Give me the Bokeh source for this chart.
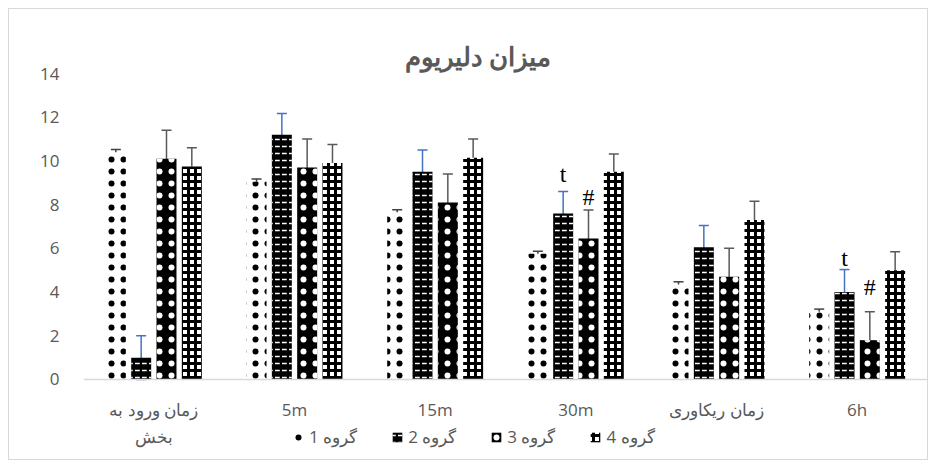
from bokeh.plotting import figure
from bokeh.models import Range1d, FixedTicker, Whisker, TeeHead, ColumnDataSource, Legend, LegendItem, Span
from bokeh.embed import file_html
from bokeh.resources import INLINE
from bokeh.core.properties import value

# ---- data ----
categories = ["زمان ورود به\nبخش", "5m", "15m", "30m", "زمان ریکاوری", "6h"]
series_names = ["گروه 1", "گروه 2", "گروه 3", "گروه 4"]
g1 = [10.4, 9.05, 7.65, 5.75, 4.35, 3.1]
g1_err = [0.12, 0.12, 0.12, 0.12, 0.12, 0.12]
g2 = [1.0, 11.2, 9.5, 7.6, 6.05, 4.0]
g2_err = [1.0, 0.97, 1.0, 1.0, 1.0, 1.03]
g3 = [10.1, 9.7, 8.1, 6.45, 4.7, 1.8]
g3_err = [1.3, 1.3, 1.3, 1.3, 1.3, 1.3]
g4 = [9.75, 9.9, 10.15, 9.5, 7.3, 5.0]
g4_err = [0.85, 0.85, 0.85, 0.82, 0.85, 0.85]
y_ticks = [0, 2, 4, 6, 8, 10, 12, 14]
title_text = "میزان دلیریوم"
ann_text = ["t", "#", "t", "#"]
ann_cat = [3, 3, 5, 5]
ann_series = [1, 2, 1, 2]
ann_y = [9.4, 8.35, 5.55, 4.25]

values = [g1, g2, g3, g4]
errors = [g1_err, g2_err, g3_err, g4_err]

# ---- styling ----
offsets = [-0.27, -0.09, 0.09, 0.27]
bar_w = 0.142
styles = [
    dict(fill_color="white", hatch_pattern="dot", hatch_color="black", hatch_scale=12, hatch_weight=1),
    dict(fill_color="black", hatch_pattern="horizontal_dash", hatch_color="white", hatch_scale=7, hatch_weight=1.5),
    dict(fill_color="black", hatch_pattern="dot", hatch_color="white", hatch_scale=12, hatch_weight=1),
    dict(fill_color="white", hatch_pattern="cross", hatch_color="black", hatch_scale=7, hatch_weight=3),
]
err_colors = ["#404040", "#4472c4", "#595959", "#595959"]
text_gray = "#595959"

p = figure(width=920, height=452, x_range=Range1d(0, 6), y_range=Range1d(-3.752, 14),
           output_backend="svg", toolbar_location=None, x_axis_location=None,
           min_border_left=74, min_border_right=2, min_border_top=64, min_border_bottom=0)
p.margin = (8, 8, 8, 8)
p.styles = {"border": "1px solid #d9d9d9"}
p.outline_line_color = None
p.xgrid.grid_line_color = None
p.ygrid.grid_line_color = None
p.background_fill_color = "white"
p.border_fill_color = "white"

p.title.text = title_text
p.title.align = "left"
p.title.offset = 321
p.title.text_font = "Noto Sans"
p.title.text_font_size = "26px"
p.title.text_font_style = "bold"
p.title.text_color = text_gray
p.title.standoff = 0

# category axis line at zero
p.add_layout(Span(location=0, dimension="width", line_color="#d9d9d9", line_width=1.5))

renderers = []
for k in range(4):
    xs = [i + 0.5 + offsets[k] for i in range(len(categories))]
    src = ColumnDataSource(dict(x=xs, top=values[k],
                                upper=[v + e for v, e in zip(values[k], errors[k])],
                                lower=[v - e for v, e in zip(values[k], errors[k])]))
    r = p.vbar(x="x", top="top", bottom=0, width=bar_w, source=src, line_color=None, **styles[k])
    renderers.append(r)
    w = Whisker(source=src, base="x", upper="upper", lower="lower",
                line_color=err_colors[k], line_width=1.5,
                upper_head=TeeHead(size=10, line_color=err_colors[k], line_width=1.5),
                lower_head=TeeHead(size=10, line_color=err_colors[k], line_width=1.5))
    p.add_layout(w)

ann_x = [ann_cat[j] + 0.5 + offsets[ann_series[j]] for j in range(len(ann_text))]
p.text(x=ann_x, y=ann_y, text=ann_text, text_font=value("Liberation Serif"),
       text_font_size="24px", text_align="center", text_baseline="middle", text_color="black")

# category labels under the zero line
cat_x = [i + 0.5 for i in range(len(categories))]
p.text(x=cat_x, y=[-0.86] * len(categories), text=categories, text_font=value("Open Sans"),
       text_font_size="17px", text_align="center", text_baseline="top", text_color=text_gray,
       text_line_height=1.15)

p.yaxis.ticker = FixedTicker(ticks=y_ticks)
p.yaxis.axis_line_color = None
p.yaxis.major_tick_line_color = None
p.yaxis.minor_tick_line_color = None
p.yaxis.major_tick_out = 0
p.yaxis.major_tick_in = 0
p.yaxis.major_label_standoff = 24
p.yaxis.major_label_text_font = "Open Sans"
p.yaxis.major_label_text_font_size = "17px"
p.yaxis.major_label_text_color = text_gray

legend = Legend(items=[LegendItem(label=series_names[k], renderers=[renderers[k]]) for k in range(4)],
                orientation="horizontal", location=(209, 13),
                label_text_font="Open Sans", label_text_font_size="17px", label_text_color=text_gray,
                border_line_color=None, background_fill_alpha=0,
                glyph_width=12, glyph_height=12, spacing=34, padding=0, margin=0, label_standoff=5)
p.add_layout(legend)

open("out.html", "w").write(file_html(p, INLINE))
